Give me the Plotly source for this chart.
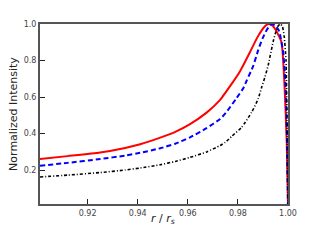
import plotly.graph_objects as go

# Data
r_red = [0.901, 0.912, 0.925, 0.935, 0.941, 0.949, 0.955, 0.9609, 0.9675, 0.9729,
         0.9749, 0.9775, 0.9808, 0.9848, 0.9875, 0.9895, 0.991, 0.9921, 0.9935,
         0.995, 0.9974, 0.9987, 0.9995, 1.0]
i_red = [0.261, 0.277, 0.297, 0.322, 0.342, 0.378, 0.41, 0.452, 0.515, 0.585,
         0.622, 0.672, 0.74, 0.845, 0.92, 0.965, 0.99, 1.0, 0.995,
         0.97, 0.90, 0.637, 0.35, 0.0]

r_blue = [0.901, 0.912, 0.925, 0.935, 0.941, 0.949, 0.955, 0.9609, 0.9675, 0.9729,
          0.9749, 0.9795, 0.9822, 0.9835, 0.9861, 0.9881, 0.9898, 0.9915, 0.9935,
          0.995, 0.9965, 0.9981, 0.9988, 0.9992, 0.9997, 1.0]
i_blue = [0.224, 0.24, 0.261, 0.28, 0.295, 0.32, 0.345, 0.38, 0.43, 0.48,
          0.509, 0.595, 0.65, 0.69, 0.77, 0.857, 0.92, 0.967, 1.0,
          0.99, 0.96, 0.84, 0.72, 0.61, 0.3, 0.0]

r_black = [0.901, 0.912, 0.925, 0.935, 0.941, 0.949, 0.955, 0.9609, 0.9675, 0.9729,
           0.9749, 0.9775, 0.9815, 0.9855, 0.9881, 0.9895, 0.9908, 0.9921, 0.9941,
           0.9952, 0.9961, 0.997, 0.9978, 0.9985, 0.9992, 0.9996, 1.0]
i_black = [0.163, 0.173, 0.187, 0.201, 0.212, 0.23, 0.248, 0.27, 0.30, 0.335,
           0.352, 0.385, 0.435, 0.517, 0.591, 0.655, 0.71, 0.775, 0.905,
           0.96, 0.99, 1.0, 0.985, 0.93, 0.80, 0.5, 0.0]

x_ticks = [0.92, 0.94, 0.96, 0.98, 1.00]
x_ticklabels = ["0.92", "0.94", "0.96", "0.98", "1.00"]
y_ticks = [0.2, 0.4, 0.6, 0.8, 1.0]
y_ticklabels = ["0.2", "0.4", "0.6", "0.8", "1.0"]
x_title = "<i>r</i> / <i>r</i><sub><i>s</i></sub>"
y_title = "Normalized Intensity"

fig = go.Figure()
fig.add_trace(go.Scatter(x=r_red, y=i_red, mode="lines",
                         line=dict(color="red", width=2, shape="spline", smoothing=0.5)))
fig.add_trace(go.Scatter(x=r_blue, y=i_blue, mode="lines",
                         line=dict(color="blue", width=2, dash="5px,3px", shape="spline", smoothing=0.5)))
fig.add_trace(go.Scatter(x=r_black, y=i_black, mode="lines",
                         line=dict(color="black", width=1.6, dash="3px,2px,1px,2px", shape="spline", smoothing=0.5)))

axis_common = dict(showgrid=False, zeroline=False, showline=True, linecolor="#555555",
                   linewidth=2, mirror=True, ticks="inside", ticklen=5, tickwidth=1.2,
                   tickcolor="#222222", automargin=False,
                   tickfont=dict(family="DejaVu Sans", size=8, color="#444444"))

fig.update_layout(
    width=320, height=240,
    margin=dict(l=40, r=32, t=24, b=36, autoexpand=False),
    paper_bgcolor="white", plot_bgcolor="white",
    showlegend=False,
    xaxis=dict(range=[0.901, 1.0], tickvals=x_ticks, ticktext=x_ticklabels, **axis_common),
    yaxis=dict(range=[0.015, 1.0], tickvals=y_ticks, ticktext=y_ticklabels,
               title=dict(text=y_title, standoff=4,
                          font=dict(family="DejaVu Sans", size=11, color="#222222")),
               **axis_common),
    annotations=[dict(text=x_title, xref="paper", yref="paper", x=0.496, y=-0.085,
                      xanchor="center", yanchor="middle", showarrow=False,
                      font=dict(family="DejaVu Sans", size=11, color="#222222"))],
)

fig.write_html("out.html", config={"displayModeBar": False},
               post_script="document.body.style.margin='0px';")
